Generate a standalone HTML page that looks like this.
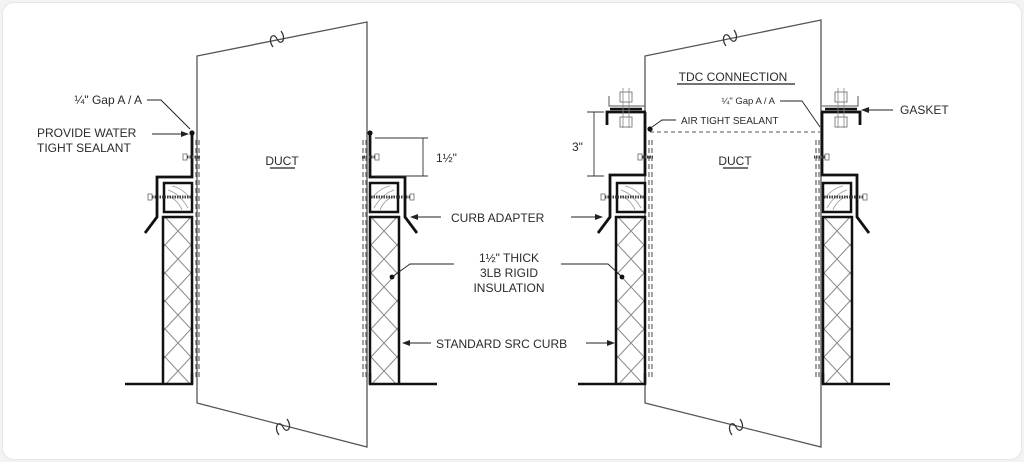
<!DOCTYPE html>
<html><head><meta charset="utf-8"><style>
html,body{margin:0;padding:0;background:#f3f3f3;}
.card{position:absolute;left:2px;top:2px;width:1018px;height:456px;background:#fff;border:1px solid #e6e6e6;border-radius:12px;}
svg{position:absolute;left:0;top:0;}
text{font-family:"Liberation Sans",sans-serif;fill:#2a2a2a;}
</style></head><body>
<div class="card"></div>
<svg width="1024" height="462" viewBox="0 0 1024 462">
<defs>
<pattern id="xh" patternUnits="userSpaceOnUse" width="26" height="28" x="165" y="217">
<path d="M0,0 L26,28 M26,0 L0,28" stroke="#888" stroke-width="1" fill="none"/>
</pattern>
<marker id="ar" markerWidth="8" markerHeight="6" refX="7" refY="3" orient="auto" markerUnits="userSpaceOnUse">
<path d="M0,0 L8,3 L0,6 z" fill="#222"/>
</marker>
<path id="brk" d="M-4,8 C-10,0 -4,-8 0,0 S10,0 4,-8" fill="none" stroke="#333" stroke-width="1.2"/>
<g id="curbL">
<rect x="164" y="218" width="27" height="165" fill="url(#xh)"/>
<path d="M125,384 H163 V217 H192 V384 H163" fill="none" stroke="#111" stroke-width="2.5"/>
<path d="M192,384 V373" stroke="#111" stroke-width="2.5"/>
<rect x="164" y="183" width="28" height="29" fill="#fff" stroke="#111" stroke-width="2.5"/>
<path d="M168,190 q12,4 20,18 M168,196 q10,4 14,14 M172,186 q10,2 18,12" stroke="#999" fill="none" stroke-width="0.8"/>
<path d="M196,140 V380 M199,140 V380" stroke="#555" stroke-width="1.1" stroke-dasharray="5,3"/>
<rect x="148" y="194" width="4" height="6" fill="none" stroke="#666" stroke-width="0.8"/>
<path d="M152,197 H192" stroke="#444" stroke-width="3" stroke-dasharray="1.5,1"/>
</g>
<g id="adL">
<path d="M192,133 V177 H157 V217 L145,233" fill="none" stroke="#111" stroke-width="2.8"/>
<circle cx="192" cy="133" r="2.6" fill="#111"/>
<rect x="183" y="154" width="4" height="6" fill="none" stroke="#666" stroke-width="0.8"/>
<path d="M187,157 H200" stroke="#444" stroke-width="3" stroke-dasharray="1.5,1"/>
</g>
<g id="tdcL">
<path d="M645,112 V175 H610 V217 L598,233" fill="none" stroke="#111" stroke-width="2.8"/>
<path d="M607,125 V112 H646" fill="none" stroke="#111" stroke-width="2.8"/>
<path d="M610,109 H642" stroke="#111" stroke-width="2.5"/>
<path d="M609,96 V106 H645" fill="none" stroke="#555" stroke-width="1"/>
<rect x="620" y="92" width="12" height="10" fill="#fff" stroke="#777" stroke-width="0.9"/>
<rect x="620" y="117" width="12" height="10" fill="#fff" stroke="#777" stroke-width="0.9"/>
<path d="M623,88 V128 M629,88 V128" stroke="#888" stroke-width="0.8"/>
<rect x="638" y="154" width="4" height="6" fill="none" stroke="#666" stroke-width="0.8"/>
<path d="M642,157 H653" stroke="#444" stroke-width="3" stroke-dasharray="1.5,1"/>
</g>
</defs>

<!-- left unit -->
<path d="M197,403 V56 L367,22 V447 Z" fill="none" stroke="#555" stroke-width="1.3"/>
<use href="#brk" x="277" y="39"/>
<use href="#brk" x="283" y="427"/>
<use href="#curbL"/>
<use href="#curbL" transform="translate(562,0) scale(-1,1)"/>
<use href="#adL"/>
<use href="#adL" transform="translate(562,0) scale(-1,1)"/>

<!-- right unit -->
<path d="M645,403 V56 L821,20 V447 Z" fill="none" stroke="#555" stroke-width="1.3"/>
<use href="#brk" x="730" y="38"/>
<use href="#brk" x="736" y="427"/>
<g transform="translate(453,0)"><use href="#curbL"/></g>
<g transform="translate(1015,0) scale(-1,1)"><use href="#curbL"/></g>
<use href="#tdcL"/>
<use href="#tdcL" transform="translate(1467,0) scale(-1,1)"/>
<path d="M650,132 H820" stroke="#555" stroke-width="1.1" stroke-dasharray="4,3"/>
<circle cx="650" cy="129" r="2.6" fill="#111"/>

<!-- left labels -->
<text x="142" y="104" font-size="12" text-anchor="end">¼" Gap A / A</text>
<path d="M147,100 H161 L190,129" fill="none" stroke="#222" stroke-width="1"/>
<text x="37" y="137" font-size="12">PROVIDE WATER</text>
<text x="37" y="152" font-size="12">TIGHT SEALANT</text>
<path d="M152,134 H188" stroke="#222" stroke-width="1" marker-end="url(#ar)"/>
<text x="282" y="165" font-size="12" text-anchor="middle">DUCT</text>
<path d="M270,168 H295" stroke="#222" stroke-width="1.2"/>
<path d="M375,138 H428 M375,176 H428 M423,138 V176" fill="none" stroke="#333" stroke-width="0.9"/>
<text x="436" y="162" font-size="12">1½"</text>

<!-- middle labels -->
<text x="451" y="222" font-size="12">CURB ADAPTER</text>
<path d="M441,217 H411" stroke="#222" stroke-width="1" marker-end="url(#ar)"/>
<path d="M571,217 H602" stroke="#222" stroke-width="1" marker-end="url(#ar)"/>
<text x="509" y="262" font-size="12" text-anchor="middle">1½" THICK</text>
<text x="509" y="277" font-size="12" text-anchor="middle">3LB RIGID</text>
<text x="509" y="292" font-size="12" text-anchor="middle">INSULATION</text>
<path d="M454,264 H410 L392,277" fill="none" stroke="#222" stroke-width="0.9"/>
<circle cx="392" cy="277" r="2.4" fill="#111"/>
<path d="M561,264 H608 L622,277" fill="none" stroke="#222" stroke-width="0.9"/>
<circle cx="622" cy="277" r="2.4" fill="#111"/>
<text x="436" y="348" font-size="12">STANDARD SRC CURB</text>
<path d="M431,343 H403" stroke="#222" stroke-width="1" marker-end="url(#ar)"/>
<path d="M586,343 H614" stroke="#222" stroke-width="1" marker-end="url(#ar)"/>

<!-- right labels -->
<text x="733" y="81" font-size="12" text-anchor="middle">TDC CONNECTION</text>
<path d="M677,84 H795" stroke="#222" stroke-width="1.2"/>
<text x="775" y="104" font-size="9.5" text-anchor="end">¼" Gap A / A</text>
<path d="M780,101 H802 L820,127" fill="none" stroke="#222" stroke-width="0.9"/>
<text x="681" y="124" font-size="10">AIR TIGHT SEALANT</text>
<path d="M676,120 H662 L652,127" fill="none" stroke="#222" stroke-width="0.9"/>
<path d="M587,112 H604 M587,176 H604 M594,112 V176" fill="none" stroke="#333" stroke-width="0.9"/>
<text x="572" y="151" font-size="12">3"</text>
<text x="900" y="114" font-size="12">GASKET</text>
<path d="M893,110 H862" stroke="#222" stroke-width="1" marker-end="url(#ar)"/>
<text x="735" y="165" font-size="12" text-anchor="middle">DUCT</text>
<path d="M723,168 H748" stroke="#222" stroke-width="1.2"/>
</svg>
</body></html>
